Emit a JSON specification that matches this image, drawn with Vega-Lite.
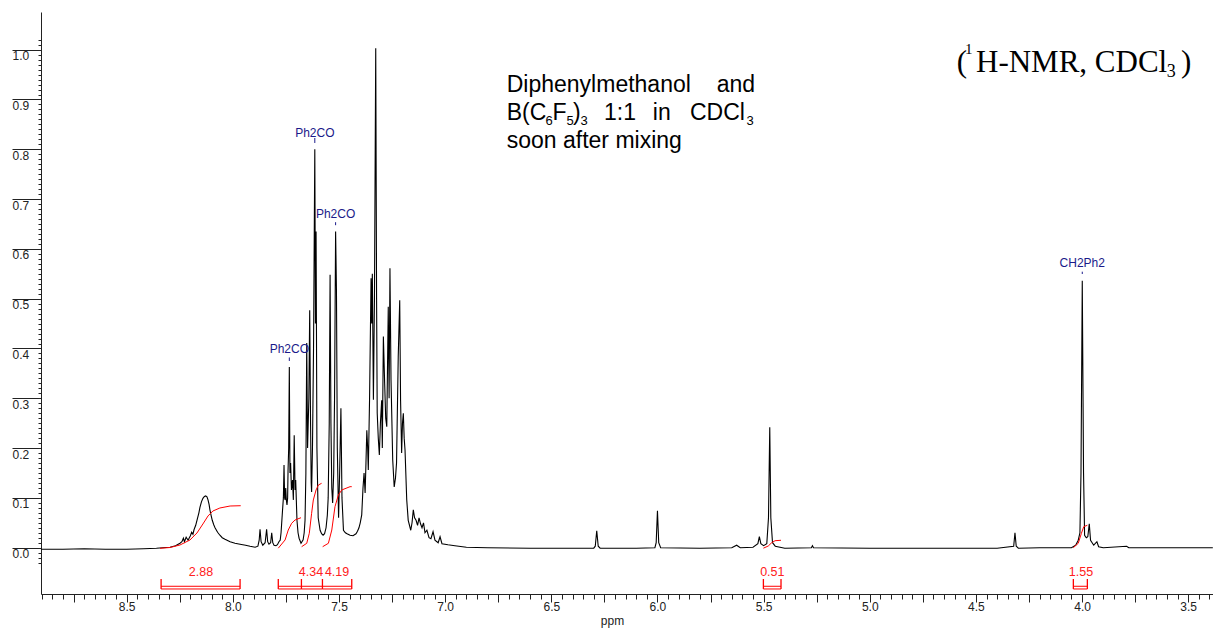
{
  "$schema": "https://vega.github.io/schema/vega-lite/v6.json",
  "width": 1172,
  "height": 582,
  "autosize": {"type": "none"},
  "padding": {"left": 41, "top": 12, "right": 0, "bottom": 36},
  "background": "white",
  "config": {"view": {"stroke": null}, "font": "Liberation Sans"},
  "datasets": {
    "spectrum": [
      {"ppm":8.904,"i":-0.003},{"ppm":8.8,"i":-0.003},{"ppm":8.7,"i":-0.002},{"ppm":8.6,"i":-0.003},{"ppm":8.5,"i":-0.003},{"ppm":8.42,"i":-0.002},{"ppm":8.36,"i":-0.001},{"ppm":8.33,"i":0.0},{"ppm":8.296,"i":0.001},{"ppm":8.27,"i":0.004},{"ppm":8.249,"i":0.009},{"ppm":8.24,"i":0.012},{"ppm":8.233,"i":0.019},{"ppm":8.228,"i":0.012},{"ppm":8.22,"i":0.021},{"ppm":8.211,"i":0.015},{"ppm":8.2,"i":0.024},{"ppm":8.194,"i":0.031},{"ppm":8.188,"i":0.027},{"ppm":8.183,"i":0.036},{"ppm":8.175,"i":0.045},{"ppm":8.169,"i":0.055},{"ppm":8.16,"i":0.07},{"ppm":8.155,"i":0.081},{"ppm":8.148,"i":0.092},{"ppm":8.141,"i":0.099},{"ppm":8.134,"i":0.103},{"ppm":8.128,"i":0.104},{"ppm":8.122,"i":0.102},{"ppm":8.117,"i":0.096},{"ppm":8.112,"i":0.087},{"ppm":8.108,"i":0.076},{"ppm":8.102,"i":0.064},{"ppm":8.097,"i":0.055},{"ppm":8.09,"i":0.046},{"ppm":8.084,"i":0.04},{"ppm":8.072,"i":0.031},{"ppm":8.061,"i":0.025},{"ppm":8.05,"i":0.02},{"ppm":8.037,"i":0.017},{"ppm":8.013,"i":0.012},{"ppm":7.99,"i":0.009},{"ppm":7.966,"i":0.007},{"ppm":7.94,"i":0.005},{"ppm":7.919,"i":0.003},{"ppm":7.895,"i":0.001},{"ppm":7.882,"i":0.003},{"ppm":7.876,"i":0.015},{"ppm":7.872,"i":0.037},{"ppm":7.867,"i":0.012},{"ppm":7.859,"i":0.005},{"ppm":7.848,"i":0.01},{"ppm":7.841,"i":0.037},{"ppm":7.836,"i":0.012},{"ppm":7.83,"i":0.007},{"ppm":7.822,"i":0.01},{"ppm":7.817,"i":0.03},{"ppm":7.812,"i":0.01},{"ppm":7.806,"i":0.005},{"ppm":7.797,"i":0.004},{"ppm":7.79,"i":0.006},{"ppm":7.783,"i":0.012},{"ppm":7.777,"i":0.015},{"ppm":7.773,"i":0.03},{"ppm":7.766,"i":0.075},{"ppm":7.762,"i":0.1},{"ppm":7.759,"i":0.166},{"ppm":7.756,"i":0.1},{"ppm":7.754,"i":0.096},{"ppm":7.751,"i":0.12},{"ppm":7.748,"i":0.095},{"ppm":7.745,"i":0.086},{"ppm":7.742,"i":0.1},{"ppm":7.74,"i":0.156},{"ppm":7.737,"i":0.2},{"ppm":7.734,"i":0.363},{"ppm":7.731,"i":0.15},{"ppm":7.728,"i":0.17},{"ppm":7.724,"i":0.116},{"ppm":7.719,"i":0.136},{"ppm":7.715,"i":0.096},{"ppm":7.711,"i":0.226},{"ppm":7.707,"i":0.116},{"ppm":7.704,"i":0.136},{"ppm":7.698,"i":0.055},{"ppm":7.693,"i":0.03},{"ppm":7.688,"i":0.019},{"ppm":7.679,"i":0.009},{"ppm":7.669,"i":0.016},{"ppm":7.664,"i":0.03},{"ppm":7.66,"i":0.055},{"ppm":7.656,"i":0.15},{"ppm":7.652,"i":0.411},{"ppm":7.648,"i":0.2},{"ppm":7.642,"i":0.3},{"ppm":7.638,"i":0.477},{"ppm":7.634,"i":0.25},{"ppm":7.631,"i":0.13},{"ppm":7.629,"i":0.112},{"ppm":7.625,"i":0.2},{"ppm":7.62,"i":0.4},{"ppm":7.614,"i":0.8},{"ppm":7.611,"i":0.45},{"ppm":7.608,"i":0.635},{"ppm":7.604,"i":0.2},{"ppm":7.598,"i":0.06},{"ppm":7.589,"i":0.035},{"ppm":7.582,"i":0.028},{"ppm":7.575,"i":0.025},{"ppm":7.568,"i":0.028},{"ppm":7.561,"i":0.04},{"ppm":7.555,"i":0.065},{"ppm":7.551,"i":0.1},{"ppm":7.546,"i":0.25},{"ppm":7.542,"i":0.548},{"ppm":7.538,"i":0.25},{"ppm":7.534,"i":0.12},{"ppm":7.53,"i":0.09},{"ppm":7.525,"i":0.15},{"ppm":7.521,"i":0.3},{"ppm":7.516,"i":0.635},{"ppm":7.512,"i":0.517},{"ppm":7.508,"i":0.2},{"ppm":7.502,"i":0.06},{"ppm":7.497,"i":0.15},{"ppm":7.491,"i":0.28},{"ppm":7.486,"i":0.1},{"ppm":7.479,"i":0.035},{"ppm":7.47,"i":0.03},{"ppm":7.462,"i":0.028},{"ppm":7.448,"i":0.025},{"ppm":7.434,"i":0.024},{"ppm":7.42,"i":0.028},{"ppm":7.413,"i":0.033},{"ppm":7.406,"i":0.04},{"ppm":7.4,"i":0.05},{"ppm":7.393,"i":0.066},{"ppm":7.387,"i":0.12},{"ppm":7.382,"i":0.15},{"ppm":7.377,"i":0.11},{"ppm":7.373,"i":0.17},{"ppm":7.369,"i":0.236},{"ppm":7.365,"i":0.2},{"ppm":7.362,"i":0.156},{"ppm":7.356,"i":0.3},{"ppm":7.349,"i":0.541},{"ppm":7.346,"i":0.45},{"ppm":7.343,"i":0.55},{"ppm":7.338,"i":0.297},{"ppm":7.333,"i":0.5},{"ppm":7.327,"i":1.003},{"ppm":7.323,"i":0.5},{"ppm":7.32,"i":0.27},{"ppm":7.315,"i":0.22},{"ppm":7.31,"i":0.186},{"ppm":7.305,"i":0.25},{"ppm":7.299,"i":0.296},{"ppm":7.296,"i":0.2},{"ppm":7.291,"i":0.424},{"ppm":7.285,"i":0.33},{"ppm":7.28,"i":0.26},{"ppm":7.275,"i":0.243},{"ppm":7.268,"i":0.484},{"ppm":7.264,"i":0.3},{"ppm":7.26,"i":0.561},{"ppm":7.255,"i":0.337},{"ppm":7.247,"i":0.176},{"ppm":7.24,"i":0.122},{"ppm":7.234,"i":0.14},{"ppm":7.229,"i":0.17},{"ppm":7.221,"i":0.384},{"ppm":7.214,"i":0.497},{"ppm":7.21,"i":0.296},{"ppm":7.205,"i":0.19},{"ppm":7.201,"i":0.25},{"ppm":7.197,"i":0.27},{"ppm":7.193,"i":0.22},{"ppm":7.189,"i":0.196},{"ppm":7.181,"i":0.096},{"ppm":7.174,"i":0.055},{"ppm":7.162,"i":0.035},{"ppm":7.156,"i":0.05},{"ppm":7.15,"i":0.076},{"ppm":7.144,"i":0.06},{"ppm":7.137,"i":0.055},{"ppm":7.13,"i":0.045},{"ppm":7.123,"i":0.06},{"ppm":7.116,"i":0.048},{"ppm":7.109,"i":0.04},{"ppm":7.102,"i":0.05},{"ppm":7.095,"i":0.03},{"ppm":7.086,"i":0.035},{"ppm":7.076,"i":0.02},{"ppm":7.067,"i":0.018},{"ppm":7.057,"i":0.032},{"ppm":7.048,"i":0.015},{"ppm":7.033,"i":0.01},{"ppm":7.024,"i":0.022},{"ppm":7.015,"i":0.008},{"ppm":6.987,"i":0.006},{"ppm":6.954,"i":0.004},{"ppm":6.9,"i":0.001},{"ppm":6.8,"i":0.0},{"ppm":6.6,"i":-0.001},{"ppm":6.4,"i":-0.001},{"ppm":6.3,"i":-0.001},{"ppm":6.293,"i":0.003},{"ppm":6.286,"i":0.034},{"ppm":6.279,"i":0.003},{"ppm":6.27,"i":-0.001},{"ppm":6.1,"i":-0.001},{"ppm":6.012,"i":0.0},{"ppm":6.006,"i":0.01},{"ppm":6.0,"i":0.074},{"ppm":5.994,"i":0.01},{"ppm":5.985,"i":0.0},{"ppm":5.8,"i":-0.001},{"ppm":5.65,"i":0.0},{"ppm":5.627,"i":0.005},{"ppm":5.61,"i":0.0},{"ppm":5.55,"i":0.001},{"ppm":5.527,"i":0.008},{"ppm":5.52,"i":0.022},{"ppm":5.513,"i":0.008},{"ppm":5.5,"i":0.004},{"ppm":5.485,"i":0.008},{"ppm":5.477,"i":0.06},{"ppm":5.471,"i":0.242},{"ppm":5.466,"i":0.06},{"ppm":5.458,"i":0.01},{"ppm":5.445,"i":0.003},{"ppm":5.4,"i":-0.001},{"ppm":5.275,"i":0.0},{"ppm":5.27,"i":0.004},{"ppm":5.265,"i":0.0},{"ppm":5.0,"i":-0.001},{"ppm":4.8,"i":-0.001},{"ppm":4.6,"i":-0.001},{"ppm":4.4,"i":-0.001},{"ppm":4.322,"i":0.003},{"ppm":4.316,"i":0.03},{"ppm":4.31,"i":0.003},{"ppm":4.3,"i":-0.001},{"ppm":4.2,"i":0.0},{"ppm":4.05,"i":0.0},{"ppm":4.03,"i":0.005},{"ppm":4.018,"i":0.015},{"ppm":4.01,"i":0.03},{"ppm":4.005,"i":0.15},{"ppm":3.999,"i":0.536},{"ppm":3.993,"i":0.15},{"ppm":3.988,"i":0.025},{"ppm":3.98,"i":0.02},{"ppm":3.973,"i":0.022},{"ppm":3.966,"i":0.048},{"ppm":3.96,"i":0.015},{"ppm":3.945,"i":0.005},{"ppm":3.93,"i":0.012},{"ppm":3.922,"i":0.002},{"ppm":3.9,"i":0.0},{"ppm":3.79,"i":0.003},{"ppm":3.78,"i":0.0},{"ppm":3.6,"i":0.0},{"ppm":3.384,"i":0.0}
    ],
    "integrals": [
      {"id":1,"ppm":8.343,"i":-0.0012},{"id":1,"ppm":8.296,"i":0.0004},{"id":1,"ppm":8.249,"i":0.0054},{"id":1,"ppm":8.202,"i":0.0155},{"id":1,"ppm":8.169,"i":0.0295},{"id":1,"ppm":8.141,"i":0.0476},{"id":1,"ppm":8.117,"i":0.0637},{"id":1,"ppm":8.094,"i":0.0737},{"id":1,"ppm":8.061,"i":0.0797},{"id":1,"ppm":8.013,"i":0.0837},{"id":1,"ppm":7.963,"i":0.0843},
      {"id":2,"ppm":7.786,"i":-0.001},{"id":2,"ppm":7.754,"i":0.0155},{"id":2,"ppm":7.739,"i":0.0355},{"id":2,"ppm":7.723,"i":0.049},{"id":2,"ppm":7.707,"i":0.0556},{"id":2,"ppm":7.679,"i":0.0602},
      {"id":3,"ppm":7.676,"i":0.002},{"id":3,"ppm":7.652,"i":0.0088},{"id":3,"ppm":7.64,"i":0.0289},{"id":3,"ppm":7.629,"i":0.069},{"id":3,"ppm":7.621,"i":0.0958},{"id":3,"ppm":7.608,"i":0.1159},{"id":3,"ppm":7.597,"i":0.1259},{"id":3,"ppm":7.582,"i":0.1293},
      {"id":4,"ppm":7.577,"i":0.002},{"id":4,"ppm":7.55,"i":0.0088},{"id":4,"ppm":7.534,"i":0.0355},{"id":4,"ppm":7.519,"i":0.0823},{"id":4,"ppm":7.503,"i":0.1058},{"id":4,"ppm":7.487,"i":0.1159},{"id":4,"ppm":7.448,"i":0.1225},{"id":4,"ppm":7.44,"i":0.1225},
      {"id":5,"ppm":5.501,"i":-0.001},{"id":5,"ppm":5.478,"i":0.0034},{"id":5,"ppm":5.462,"i":0.01},{"id":5,"ppm":5.446,"i":0.014},{"id":5,"ppm":5.418,"i":0.0149},
      {"id":6,"ppm":4.041,"i":0.0},{"id":6,"ppm":4.018,"i":0.0088},{"id":6,"ppm":4.003,"i":0.0289},{"id":6,"ppm":3.992,"i":0.0422},{"id":6,"ppm":3.975,"i":0.045}
    ],
    "brackets": [
      {"from":8.338,"to":7.966},{"from":7.786,"to":7.677},{"from":7.677,"to":7.578},{"from":7.578,"to":7.44},{"from":5.501,"to":5.418},{"from":4.041,"to":3.975}
    ],
    "bracketEnds": [
      {"ppm":8.338},{"ppm":7.966},{"ppm":7.786},{"ppm":7.677},{"ppm":7.578},{"ppm":7.44},{"ppm":5.501},{"ppm":5.418},{"ppm":4.041},{"ppm":3.975}
    ],
    "integralLabels": [
      {"ppm":8.15,"i":-0.0482,"label":"2.88"},{"ppm":7.632,"i":-0.0482,"label":"4.34"},{"ppm":7.509,"i":-0.0482,"label":"4.19"},{"ppm":5.459,"i":-0.0482,"label":"0.51"},{"ppm":4.005,"i":-0.0482,"label":"1.55"}
    ],
    "peakLabels": [
      {"ppm":7.614,"i":0.8333,"t1":0.8227,"t2":0.8127,"label":"Ph2CO"},
      {"ppm":7.516,"i":0.6695,"t1":0.6536,"t2":0.6476,"label":"Ph2CO"},
      {"ppm":7.734,"i":0.3984,"t1":0.382,"t2":0.375,"label":"Ph2CO"},
      {"ppm":3.999,"i":0.5711,"t1":0.5542,"t2":0.5496,"label":"CH2Ph2"}
    ],
    "noteMain": [
      {"ppm":6.71,"i":0.9151,"text":"Diphenylmethanol"},
      {"ppm":5.721,"i":0.9151,"text":"and"},
      {"ppm":6.71,"i":0.859,"text":"B(C"},
      {"ppm":6.494,"i":0.859,"text":"F"},
      {"ppm":6.398,"i":0.859,"text":")"},
      {"ppm":6.252,"i":0.859,"text":"1:1"},
      {"ppm":6.022,"i":0.859,"text":"in"},
      {"ppm":5.847,"i":0.859,"text":"CDCl"},
      {"ppm":6.71,"i":0.8032,"text":"soon after mixing"}
    ],
    "noteSub": [
      {"ppm":6.527,"i":0.849,"text":"6"},
      {"ppm":6.428,"i":0.849,"text":"5"},
      {"ppm":6.3625,"i":0.849,"text":"3"},
      {"ppm":5.5805,"i":0.849,"text":"3"}
    ],
    "titleMain": [
      {"ppm":4.59,"i":0.9558,"text":"("},
      {"ppm":4.4995,"i":0.9558,"text":"H-NMR, CDCl"},
      {"ppm":3.534,"i":0.9558,"text":")"}
    ],
    "titleSup": [
      {"ppm":4.551,"i":0.9914,"text":"1"}
    ],
    "titleSub": [
      {"ppm":3.601,"i":0.9452,"text":"3"}
    ]
  },
  "resolve": {"axis": {"x": "independent", "y": "independent"}},
  "layer": [
    {
      "data": {"name": "spectrum"},
      "mark": {"type": "line", "color": "#000000", "strokeWidth": 1.1, "interpolate": "linear"},
      "encoding": {
        "x": {
          "field": "ppm", "type": "quantitative",
          "scale": {"domain": [3.3832, 8.9037], "reverse": true, "nice": false, "zero": false},
          "axis": {
            "orient": "bottom", "grid": false,
            "values": [3.5,3.75,4,4.25,4.5,4.75,5,5.25,5.5,5.75,6,6.25,6.5,6.75,7,7.25,7.5,7.75,8,8.25,8.5,8.75],
            "tickSize": 8, "tickColor": "#222222", "domainColor": "#222222", "domainWidth": 1,
            "labelExpr": "(round(datum.value*2) == datum.value*2) ? format(datum.value, '.1f') : ''",
            "labelFont": "Liberation Sans", "labelFontSize": 12, "labelColor": "#222222",
            "labelPadding": -1, "labelBaseline": "top", "labelOverlap": false, "labelFlush": false,
            "title": "ppm", "titleFont": "Liberation Sans", "titleFontSize": 12, "titleFontWeight": "normal",
            "titleColor": "#222222", "titleX": 571, "titleY": 30, "titleAlign": "center", "titleBaseline": "alphabetic"
          }
        },
        "y": {
          "field": "i", "type": "quantitative",
          "scale": {"domain": [-0.093, 1.0757], "nice": false, "zero": false},
          "axis": {
            "orient": "left", "grid": false,
            "values": [0,0.1,0.2,0.3,0.4,0.5,0.6,0.7,0.8,0.9,1.0],
            "format": ".1f",
            "tickSize": 29, "tickColor": "#222222", "domainColor": "#222222", "domainWidth": 1,
            "labelAlign": "left", "labelBaseline": "top", "labelPadding": 0, "labelOffset": 1,
            "labelFont": "Liberation Sans", "labelFontSize": 12, "labelColor": "#222222",
            "labelOverlap": false, "labelFlush": false,
            "title": null
          }
        }
      }
    },
    {
      "data": {"name": "integrals"},
      "mark": {"type": "line", "color": "#ff0000", "strokeWidth": 1},
      "encoding": {
        "x": {
          "field": "ppm", "type": "quantitative",
          "axis": {
            "orient": "bottom", "grid": false, "domain": false, "labels": false, "title": null,
            "tickSize": 5, "tickColor": "#222222",
            "values": [3.4,3.45,3.5,3.55,3.6,3.65,3.7,3.75,3.8,3.85,3.9,3.95,4,4.05,4.1,4.15,4.2,4.25,4.3,4.35,4.4,4.45,4.5,4.55,4.6,4.65,4.7,4.75,4.8,4.85,4.9,4.95,5,5.05,5.1,5.15,5.2,5.25,5.3,5.35,5.4,5.45,5.5,5.55,5.6,5.65,5.7,5.75,5.8,5.85,5.9,5.95,6,6.05,6.1,6.15,6.2,6.25,6.3,6.35,6.4,6.45,6.5,6.55,6.6,6.65,6.7,6.75,6.8,6.85,6.9,6.95,7,7.05,7.1,7.15,7.2,7.25,7.3,7.35,7.4,7.45,7.5,7.55,7.6,7.65,7.7,7.75,7.8,7.85,7.9,7.95,8,8.05,8.1,8.15,8.2,8.25,8.3,8.35,8.4,8.45,8.5,8.55,8.6,8.65,8.7,8.75,8.8,8.85,8.9]
          }
        },
        "y": {
          "field": "i", "type": "quantitative",
          "axis": {
            "orient": "left", "grid": false, "domain": false, "labels": false, "title": null,
            "tickSize": 3, "tickColor": "#222222",
            "values": [-0.03,-0.02,-0.01,0,0.01,0.02,0.03,0.04,0.05,0.06,0.07,0.08,0.09,0.1,0.11,0.12,0.13,0.14,0.15,0.16,0.17,0.18,0.19,0.2,0.21,0.22,0.23,0.24,0.25,0.26,0.27,0.28,0.29,0.3,0.31,0.32,0.33,0.34,0.35,0.36,0.37,0.38,0.39,0.4,0.41,0.42,0.43,0.44,0.45,0.46,0.47,0.48,0.49,0.5,0.51,0.52,0.53,0.54,0.55,0.56,0.57,0.58,0.59,0.6,0.61,0.62,0.63,0.64,0.65,0.66,0.67,0.68,0.69,0.7,0.71,0.72,0.73,0.74,0.75,0.76,0.77,0.78,0.79,0.8,0.81,0.82,0.83,0.84,0.85,0.86,0.87,0.88,0.89,0.9,0.91,0.92,0.93,0.94,0.95,0.96,0.97,0.98,0.99,1.0,1.01,1.02]
          }
        },
        "detail": {"field": "id", "type": "nominal"}
      }
    },
    {
      "data": {"name": "brackets"},
      "mark": {"type": "rule", "color": "#ff0000", "strokeWidth": 1},
      "encoding": {
        "x": {"field": "from", "type": "quantitative", "axis": null},
        "x2": {"field": "to"},
        "y": {"datum": -0.0775, "axis": null}
      }
    },
    {
      "data": {"name": "brackets"},
      "mark": {"type": "rule", "color": "#ff0000", "strokeWidth": 1},
      "encoding": {
        "x": {"field": "from", "type": "quantitative", "axis": null},
        "x2": {"field": "to"},
        "y": {"datum": -0.0829, "axis": null}
      }
    },
    {
      "data": {"name": "bracketEnds"},
      "mark": {"type": "rule", "color": "#ff0000", "strokeWidth": 1.3},
      "encoding": {
        "x": {"field": "ppm", "type": "quantitative", "axis": null},
        "y": {"datum": -0.0629, "axis": null},
        "y2": {"datum": -0.0829}
      }
    },
    {
      "data": {"name": "integralLabels"},
      "mark": {"type": "text", "color": "#ff2020", "font": "Liberation Sans", "fontSize": 12.5, "align": "center", "baseline": "middle"},
      "encoding": {
        "x": {"field": "ppm", "type": "quantitative", "axis": null},
        "y": {"field": "i", "type": "quantitative", "axis": null},
        "text": {"field": "label"}
      }
    },
    {
      "data": {"name": "peakLabels"},
      "mark": {"type": "rule", "color": "#1a1a8a", "strokeWidth": 1},
      "encoding": {
        "x": {"field": "ppm", "type": "quantitative", "axis": null},
        "y": {"field": "t1", "type": "quantitative", "axis": null},
        "y2": {"field": "t2"}
      }
    },
    {
      "data": {"name": "peakLabels"},
      "mark": {"type": "text", "color": "#1a1a8a", "font": "Liberation Sans", "fontSize": 12, "align": "center", "baseline": "middle"},
      "encoding": {
        "x": {"field": "ppm", "type": "quantitative", "axis": null},
        "y": {"field": "i", "type": "quantitative", "axis": null},
        "text": {"field": "label"}
      }
    },
    {
      "data": {"name": "noteMain"},
      "mark": {"type": "text", "color": "#000000", "font": "Liberation Sans", "fontSize": 23, "align": "left", "baseline": "alphabetic"},
      "encoding": {
        "x": {"field": "ppm", "type": "quantitative", "axis": null},
        "y": {"field": "i", "type": "quantitative", "axis": null},
        "text": {"field": "text"}
      }
    },
    {
      "data": {"name": "noteSub"},
      "mark": {"type": "text", "color": "#000000", "font": "Liberation Sans", "fontSize": 13, "align": "left", "baseline": "alphabetic"},
      "encoding": {
        "x": {"field": "ppm", "type": "quantitative", "axis": null},
        "y": {"field": "i", "type": "quantitative", "axis": null},
        "text": {"field": "text"}
      }
    },
    {
      "data": {"name": "titleMain"},
      "mark": {"type": "text", "color": "#000000", "font": "Liberation Serif", "fontSize": 31, "align": "left", "baseline": "alphabetic"},
      "encoding": {
        "x": {"field": "ppm", "type": "quantitative", "axis": null},
        "y": {"field": "i", "type": "quantitative", "axis": null},
        "text": {"field": "text"}
      }
    },
    {
      "data": {"name": "titleSup"},
      "mark": {"type": "text", "color": "#000000", "font": "Liberation Serif", "fontSize": 15, "align": "left", "baseline": "alphabetic"},
      "encoding": {
        "x": {"field": "ppm", "type": "quantitative", "axis": null},
        "y": {"field": "i", "type": "quantitative", "axis": null},
        "text": {"field": "text"}
      }
    },
    {
      "data": {"name": "titleSub"},
      "mark": {"type": "text", "color": "#000000", "font": "Liberation Serif", "fontSize": 18, "align": "left", "baseline": "alphabetic"},
      "encoding": {
        "x": {"field": "ppm", "type": "quantitative", "axis": null},
        "y": {"field": "i", "type": "quantitative", "axis": null},
        "text": {"field": "text"}
      }
    }
  ]
}
